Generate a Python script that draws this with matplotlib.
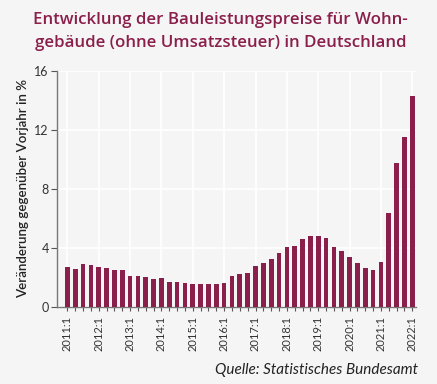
import matplotlib
matplotlib.use("Agg")
import matplotlib.pyplot as plt
import numpy as np

years = list(range(2011, 2023))
quarters = [f"{y}:{q}" for y in range(2011, 2022) for q in range(1, 5)] + ["2022:1"]
values = [2.71, 2.58, 2.92, 2.87, 2.73, 2.62, 2.49, 2.49,
          2.12, 2.12, 2.01, 1.90, 1.99, 1.67, 1.67, 1.65,
          1.54, 1.54, 1.54, 1.54, 1.63, 2.10, 2.21, 2.31,
          2.78, 2.98, 3.23, 3.64, 4.04, 4.11, 4.63, 4.81,
          4.81, 4.66, 4.07, 3.77, 3.37, 3.01, 2.62, 2.51,
          3.07, 6.37, 9.74, 11.53, 14.31]
yticks = [0, 4, 8, 12, 16]
title = "Entwicklung der Bauleistungspreise für Wohn-\ngebäude (ohne Umsatzsteuer) in Deutschland"
ylabel = "Veränderung gegenüber Vorjahr in %"
source = "Quelle: Statistisches Bundesamt"

bg = "#f5f5f5"
bar_color = "#8b1f4b"
title_color = "#8b1f4b"
text_color = "#333333"

fig = plt.figure(figsize=(4.37, 3.84), dpi=100, facecolor=bg)
ax = fig.add_axes([57.3/437, 1-307/384, (416-57.3)/437, (307-71)/384])
ax.set_facecolor(bg)

x = np.arange(len(values))
ax.bar(x, values, width=0.6, color=bar_color, zorder=3)

label_idx = [i for i, q in enumerate(quarters) if q.endswith(":1")]
ax.set_xticks(x, minor=True)
ax.set_xticks(label_idx)
ax.set_xticklabels([quarters[i] for i in label_idx], rotation=90,
                   fontsize=8, color=text_color, family="Lato")
ax.tick_params(axis="x", which="both", length=3, color="#555555", width=0.8)
ax.set_xlim(-1.28, 44.47)

ax.set_ylim(0, 16)
ax.set_yticks(yticks)
ax.set_yticklabels([str(t) for t in yticks], fontsize=9, color=text_color, family="Lato")
ax.tick_params(axis="y", length=4, color="#555555", width=0.8, pad=2)

ax.grid(True, which="major", color="white", linewidth=1.2, zorder=0)
for s in ["top", "right"]:
    ax.spines[s].set_visible(False)
for s in ["left", "bottom"]:
    ax.spines[s].set_color("#777777")
    ax.spines[s].set_linewidth(1)

ax.set_ylabel(ylabel, fontsize=9.6, color="#222222", family="Lato",
              fontweight="semibold", labelpad=4)

fig.text(0.5 + 2/437, 1-31.5/384, title, ha="center", va="center", fontsize=12.2,
         color=title_color, family="Open Sans", fontweight="semibold",
         linespacing=1.58)
fig.text(418/437, 1-370/384, source, ha="right", va="center", fontsize=11,
         color="#222222", family="Lato", style="italic")

fig.savefig("out.png", dpi=100, facecolor=bg)
